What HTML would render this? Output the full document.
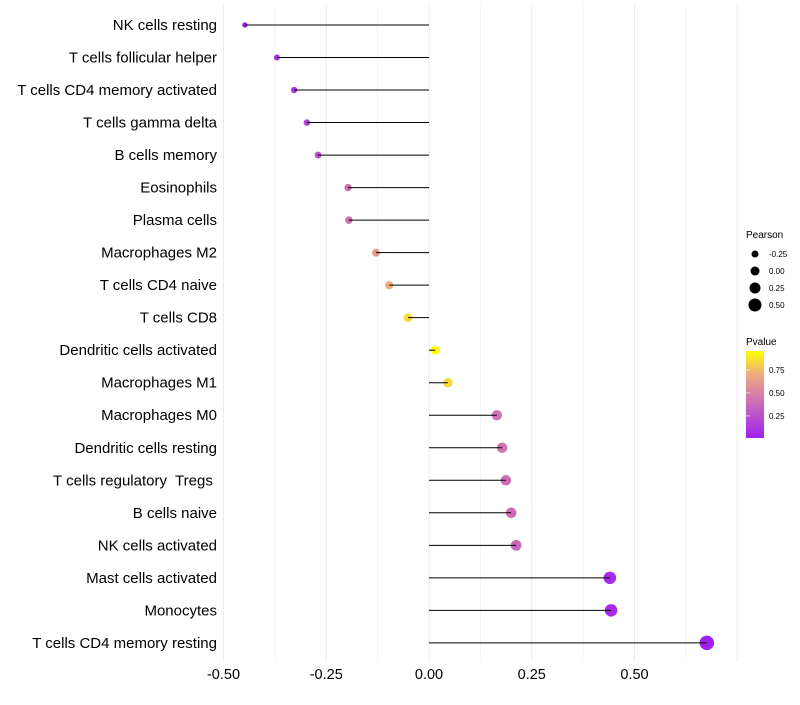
<!DOCTYPE html>
<html><head><meta charset="utf-8"><style>
body{margin:0;background:#fff;font-family:"Liberation Sans",sans-serif}
svg text{font-family:"Liberation Sans",sans-serif;white-space:pre}
</style></head><body>
<svg id="chart" width="800" height="700" xmlns="http://www.w3.org/2000/svg">
<defs><linearGradient id="pg" x1="0" y1="1" x2="0" y2="0">
<stop offset="0" stop-color="#a020f0"/><stop offset="0.5" stop-color="#d67fa8"/><stop offset="0.75" stop-color="#eeb07a"/><stop offset="1" stop-color="#ffff00"/>
</linearGradient></defs>
<g id="grid"></g>
<g id="marks"></g>
<g id="labels"></g>
<g id="xt"></g>
<g>
<text x="746" y="238" font-size="10">Pearson</text>
<g id="sizeleg"></g>
</g>
<g>
<text x="746" y="345" font-size="10">Pvalue</text>
<rect x="746" y="351" width="18" height="87" fill="url(#pg)"/>
<g id="colleg"></g>
</g>
</svg>
<script>
const categories=["NK cells resting","T cells follicular helper","T cells CD4 memory activated","T cells gamma delta","B cells memory","Eosinophils","Plasma cells","Macrophages M2","T cells CD4 naive","T cells CD8","Dendritic cells activated","Macrophages M1","Macrophages M0","Dendritic cells resting","T cells regulatory  Tregs ","B cells naive","NK cells activated","Mast cells activated","Monocytes","T cells CD4 memory resting"];
const pearson=[-0.448,-0.37,-0.328,-0.297,-0.27,-0.197,-0.195,-0.129,-0.097,-0.051,0.015,0.046,0.165,0.178,0.187,0.2,0.212,0.44,0.443,0.676];
const pvalue=[0.02,0.08,0.13,0.18,0.25,0.4,0.4,0.62,0.7,0.85,0.95,0.85,0.43,0.43,0.4,0.4,0.37,0.06,0.06,0.01];
const xTicks=[-0.5,-0.25,0,0.25,0.5];
const xTickLabels=["-0.50","-0.25","0.00","0.25","0.50"];
const sizeLegend=[-0.25,0,0.25,0.5];
const sizeLegendLabels=["-0.25","0.00","0.25","0.50"];
const colorLegend=[0.25,0.5,0.75];
const colorLegendLabels=["0.25","0.50","0.75"];
const NS="http://www.w3.org/2000/svg";
const x=v=>429+v*411;
const y=i=>25+i*32.52;
const r=v=>4.5+v*4;
function mk(t,a,p){const e=document.createElementNS(NS,t);for(const k in a)e.setAttribute(k,a[k]);p.appendChild(e);return e;}
function hex(c){return c.map(v=>Math.round(v).toString(16).padStart(2,'0')).join('');}
const stops=[[0,[160,32,240]],[0.5,[214,127,168]],[0.75,[238,176,122]],[1,[255,255,0]]];
const cMin=0.01,cMax=0.956;
function col(p){let t=(p-cMin)/(cMax-cMin);t=Math.max(0,Math.min(1,t));for(let i=1;i<stops.length;i++){if(t<=stops[i][0]){const a=stops[i-1],b=stops[i];const f=(t-a[0])/(b[0]-a[0]);return '#'+hex(a[1].map((v,k)=>v+(b[1][k]-v)*f));}}return '#ffff00';}
const grid=document.getElementById('grid'),marks=document.getElementById('marks'),labels=document.getElementById('labels'),xt=document.getElementById('xt');
for(let v=-0.5;v<=0.76;v+=0.125){const l=mk('line',{x1:x(v),x2:x(v),y1:5,y2:662,stroke:'#ebebeb','stroke-width':Math.abs((v*8)%2)<0.01?1:0.5},grid);}
xTicks.forEach((v,i)=>{const t=mk('text',{x:x(v),y:679,'font-size':14.5,'text-anchor':'middle',fill:'#000'},xt);t.textContent=xTickLabels[i];});
categories.forEach((c,i)=>{
const d=mk('circle',{cx:x(pearson[i]),cy:y(i),r:r(pearson[i]),fill:col(pvalue[i])},marks);

const l=mk('line',{x1:x(0),x2:x(pearson[i]),y1:y(i),y2:y(i),stroke:'#000','stroke-width':1},marks);

const t=mk('text',{x:217,y:y(i)+5,'font-size':15,'text-anchor':'end',fill:'#000'},labels);
t.textContent=c;
});
const sl=document.getElementById('sizeleg');
sizeLegend.forEach((v,i)=>{const cy=254+i*17;const c=mk('circle',{cx:755,cy:cy,r:r(v),fill:'#000'},sl);
const t=mk('text',{x:769,y:cy+3,'font-size':8},sl);t.textContent=sizeLegendLabels[i];});
const cl=document.getElementById('colleg');
colorLegend.forEach((v,i)=>{const cy=438-(v-cMin)/(cMax-cMin)*87;
const k=mk('line',{x1:746,x2:750,y1:cy,y2:cy,stroke:'#fff','stroke-width':0.6},cl);
const t=mk('text',{x:769,y:cy+3,'font-size':8},cl);t.textContent=colorLegendLabels[i];});
</script>
</body></html>
